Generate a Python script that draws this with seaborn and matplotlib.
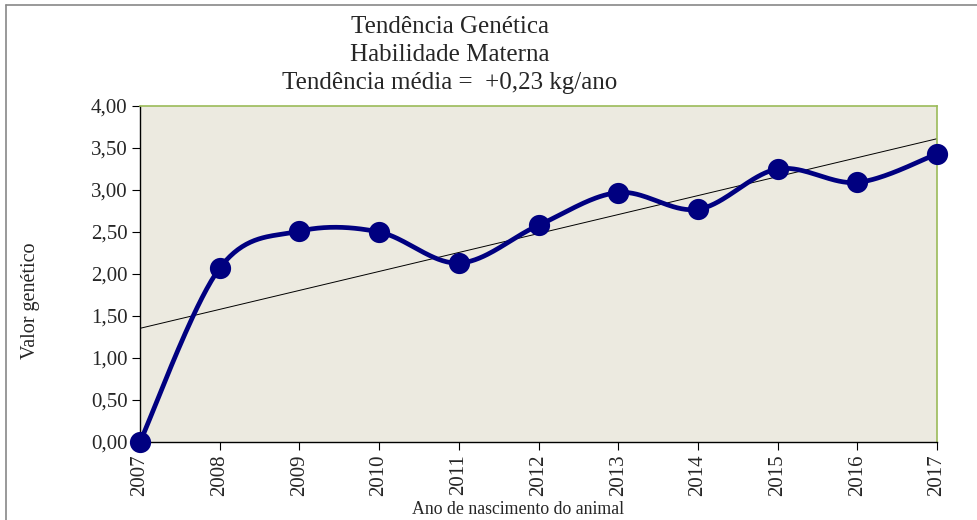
import numpy as np
import pandas as pd
import matplotlib
matplotlib.use("Agg")
import matplotlib.pyplot as plt
import seaborn as sns
from matplotlib.ticker import FuncFormatter

# dados
anos = [2007, 2008, 2009, 2010, 2011, 2012, 2013, 2014, 2015, 2016, 2017]
valor_genetico = [0.00, 2.07, 2.51, 2.50, 2.13, 2.58, 2.97, 2.77, 3.25, 3.09, 3.43]

titulo = "Tendência Genética\nHabilidade Materna\nTendência média =  +0,23 kg/ano"
xlabel = "Ano de nascimento do animal"
ylabel = "Valor genético"

df = pd.DataFrame({"ano": anos, "valor": valor_genetico})

# curva suavizada tipo Excel (bezier / catmull-rom)
def suavizar(x, y, n=40):
    x = np.asarray(x, float)
    y = np.asarray(y, float)
    px = np.concatenate([[x[0]], x, [x[-1]]])
    py = np.concatenate([[y[0]], y, [y[-1]]])
    xs, ys = [], []
    t = np.linspace(0, 1, n)
    for i in range(1, len(px) - 2):
        p0x, p0y = px[i], py[i]
        p3x, p3y = px[i + 1], py[i + 1]
        c1x = p0x + (px[i + 1] - px[i - 1]) / 6
        c1y = p0y + (py[i + 1] - py[i - 1]) / 6
        c2x = p3x - (px[i + 2] - px[i]) / 6
        c2y = p3y - (py[i + 2] - py[i]) / 6
        b = [(1 - t) ** 3, 3 * (1 - t) ** 2 * t, 3 * (1 - t) * t ** 2, t ** 3]
        xs.append(b[0] * p0x + b[1] * c1x + b[2] * c2x + b[3] * p3x)
        ys.append(b[0] * p0y + b[1] * c1y + b[2] * c2y + b[3] * p3y)
    return np.concatenate(xs), np.concatenate(ys)

sx, sy = suavizar(df["ano"], df["valor"])
df_suave = pd.DataFrame({"ano": sx, "valor": sy})

sns.set_style("white")
plt.rcParams["font.family"] = ["Liberation Serif", "DejaVu Serif"]

fig = plt.figure(figsize=(9.77, 5.2), dpi=100)
ax = fig.add_axes([140 / 977, 78 / 520, 797 / 977, 336 / 520])
ax.set_facecolor("#ECEAE0")

sns.regplot(data=df, x="ano", y="valor", ax=ax, scatter=False, ci=None,
            truncate=True, color="black", line_kws={"lw": 0.7})
sns.lineplot(data=df_suave, x="ano", y="valor", ax=ax, sort=False,
             color="#000080", lw=3.4, estimator=None, solid_capstyle="round", zorder=3)
sns.scatterplot(data=df, x="ano", y="valor", ax=ax, s=200, color="#000080",
                edgecolor="#000080", zorder=4, clip_on=False)

ax.set_xlim(2007, 2017)
ax.set_ylim(0, 4)
ax.set_xticks(anos)
ax.set_xticklabels([str(a) for a in anos], rotation=90)
ax.set_yticks(np.arange(0, 4.01, 0.5))
ax.yaxis.set_major_formatter(FuncFormatter(lambda v, p: f"{v:.2f}".replace(".", ",")))
ax.tick_params(axis="both", direction="out", length=6, width=0.8, color="black",
               labelsize=15, pad=3, bottom=True, left=True)
ax.set_xlabel("")
ax.set_ylabel("")

for lado in ["left", "bottom"]:
    ax.spines[lado].set_color("black")
    ax.spines[lado].set_linewidth(1.0)
for lado in ["top", "right"]:
    ax.spines[lado].set_color("#9BBB59")
    ax.spines[lado].set_linewidth(1.2)

fig.text(450 / 977, 1 - 55 / 520, titulo, ha="center", va="center",
         fontsize=18, linespacing=1.38)
fig.text(518 / 977, 1 - 510 / 520, xlabel, ha="center", va="center", fontsize=12.8)
fig.text(30 / 977, 1 - 301 / 520, ylabel, ha="center", va="center",
         fontsize=14.5, rotation=90)

# moldura externa (apenas topo e esquerda visiveis)
fig.add_artist(plt.Line2D([6 / 977, 6 / 977], [0, 1 - 5 / 520], color="#888888", lw=1.2))
fig.add_artist(plt.Line2D([6 / 977, 1], [1 - 5 / 520, 1 - 5 / 520], color="#888888", lw=1.2))

fig.savefig("out.png", dpi=100)
